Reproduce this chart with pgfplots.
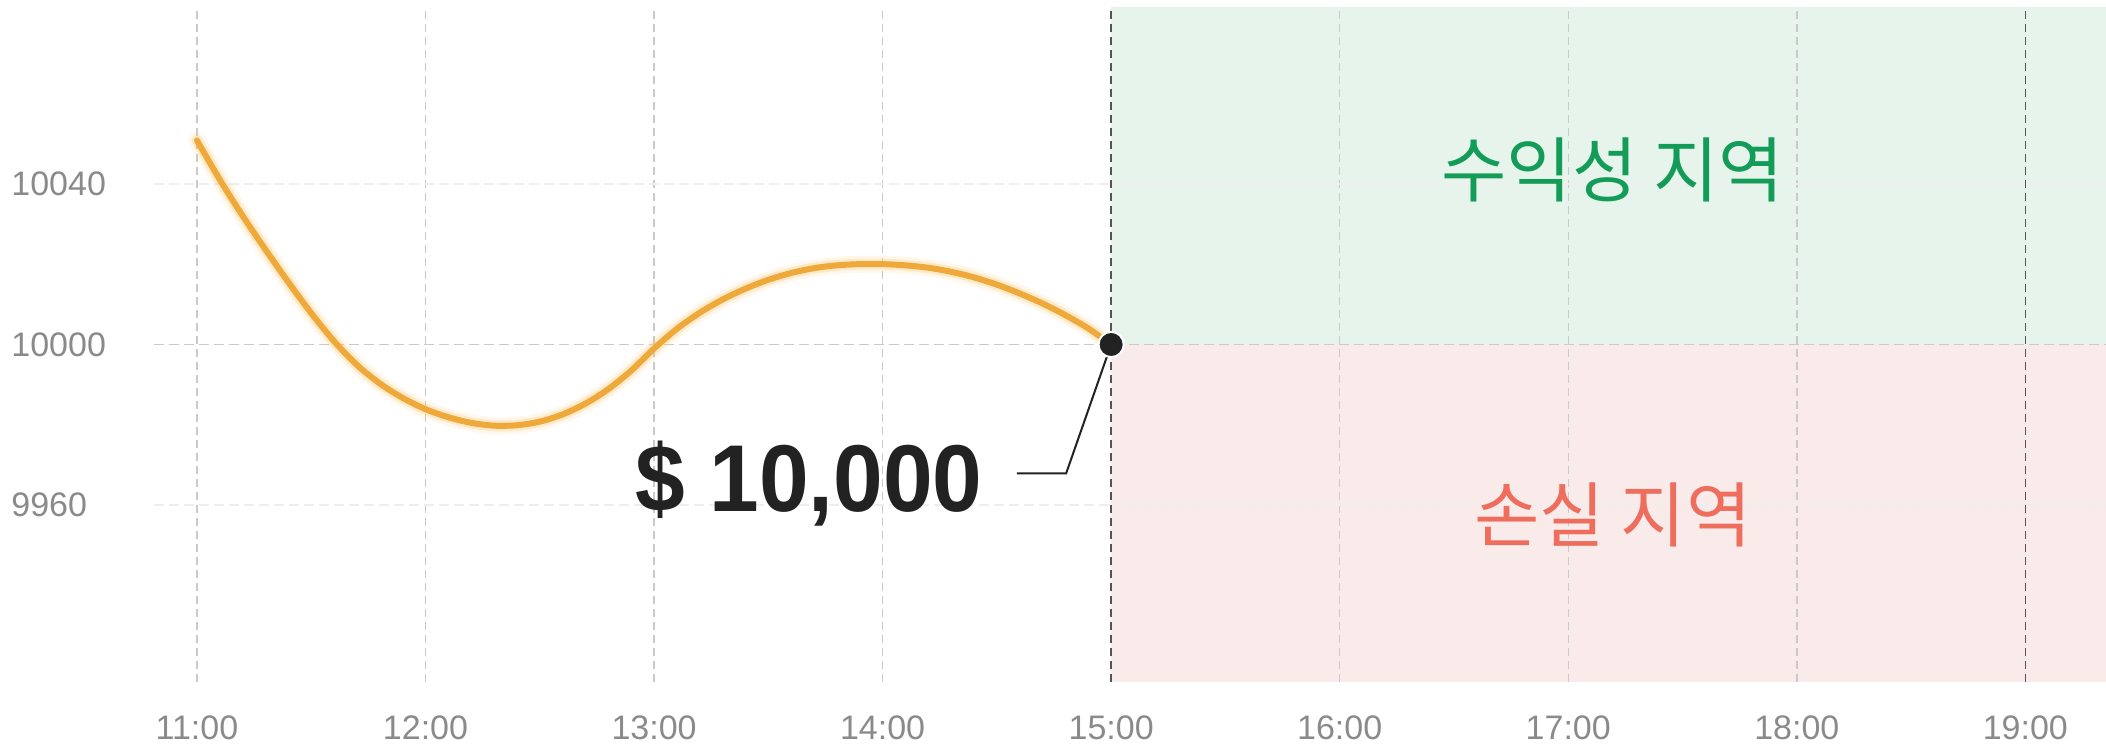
\documentclass[border=0pt]{standalone}
\usepackage{fontspec}
\setmainfont{Liberation Sans}
\newfontfamily\kr{Noto Sans CJK KR}
\usepackage{pgfplots}
\pgfplotsset{compat=1.18}
\definecolor{curve}{HTML}{EFA83A}
\definecolor{glow}{HTML}{F6C46A}
\definecolor{gfill}{HTML}{E7F4EC}
\definecolor{rfill}{HTML}{F9EBEA}
\definecolor{gtext}{HTML}{139B58}
\definecolor{rtext}{HTML}{EE6D5D}
\definecolor{ticktext}{HTML}{8A8A8A}
\definecolor{gridgray}{HTML}{CACACA}
\definecolor{gridlight}{HTML}{EEEEEE}
\definecolor{darkdash}{HTML}{555555}
\definecolor{ink}{HTML}{222222}

\pgfplotstableread{
x y
11.0 10050.8
11.1 10041.0
11.2 10032.0
11.3 10023.6
11.4 10015.5
11.5 10007.8
11.6 10000.8
11.7 9994.9
11.8 9990.3
11.9 9986.7
12.0 9983.9
12.1 9981.9
12.2 9980.5
12.3 9979.8
12.4 9979.9
12.5 9980.8
12.6 9982.6
12.7 9985.3
12.8 9988.9
12.9 9993.5
13.0 9999.0
13.1 10003.9
13.2 10007.9
13.3 10011.2
13.4 10013.9
13.5 10016.1
13.6 10017.8
13.7 10019.0
13.8 10019.7
13.9 10020.0
14.0 10020.0
14.1 10019.7
14.2 10019.1
14.3 10018.1
14.4 10016.7
14.5 10014.9
14.6 10012.7
14.7 10010.2
14.8 10007.3
14.9 10004.0
15.0 10000.0
}\pricedata

\begin{document}
\begin{tikzpicture}
\begin{axis}[
  set layers=standard,
  scale only axis, width=976pt, height=337.5pt,
  xmin=10.812, xmax=19.353, ymin=9916, ymax=10084,
  axis line style={draw=none},
  major tick length=0pt,
  xtick={11,12,13,14,15,16,17,18,19},
  xticklabels={11:00,12:00,13:00,14:00,15:00,16:00,17:00,18:00,19:00},
  ytick={9960,10000,10040},
  yticklabels={9960,10000,10040},
  xmajorgrids, ymajorgrids,
  x grid style={color=gridgray, line width=0.75pt, dash pattern=on 4pt off 2.5pt},
  y grid style={color=gridlight, line width=0.75pt, dash pattern=on 5pt off 2.5pt},
  tick label style={font=\fontsize{17}{19}\selectfont, text=ticktext, inner sep=0pt},
  xticklabel style={anchor=center, yshift=-23pt},
  yticklabel style={anchor=west, xshift=-71.5pt},
  clip=false,
]
% shaded zones
\addplot[on layer=axis background, fill=gfill, draw=none] coordinates {(15,10000) (19.353,10000) (19.353,10084) (15,10084)} -- cycle;
\addplot[on layer=axis background, fill=rfill, draw=none] coordinates {(15,9916) (19.353,9916) (19.353,10000) (15,10000)} -- cycle;
% emphasised grid lines
\addplot[color=gridgray, line width=0.75pt, dash pattern=on 5pt off 2.5pt] coordinates {(10.812,10000) (19.353,10000)};
\addplot[color=darkdash, line width=0.75pt, dash pattern=on 4pt off 2.5pt] coordinates {(15,9916) (15,10084)};
\addplot[color=darkdash, line width=0.75pt, dash pattern=on 4pt off 2.5pt] coordinates {(19,9916) (19,10084)};
% curve with glow
\addplot[color=glow, opacity=0.14, line width=8.5pt, smooth, line cap=round, line join=round] table {\pricedata};
\addplot[color=glow, opacity=0.25, line width=5.5pt, smooth, line cap=round, line join=round] table {\pricedata};
\addplot[color=curve, line width=3pt, smooth, line cap=round, line join=round] table {\pricedata};
% annotation
\addplot[only marks, mark=*, mark size=6.3pt, mark options={fill=ink, draw=white, line width=1pt}] coordinates {(15,10000)};
\draw[color=ink, line width=1pt] (axis cs:14.587,9967.9) -- (axis cs:14.803,9967.9) -- (axis cs:15,10000);
\node[anchor=base east, inner sep=0pt, text=ink, xscale=0.94, font=\bfseries\fontsize{47.5}{52}\selectfont] at (axis cs:14.44,9958.5) {\$ 10,000};
\node[text=gtext, inner sep=0pt, font=\kr\fontsize{35.5}{40}\selectfont] at (axis cs:17.195,10043.5) {수익성 지역};
\node[text=rtext, inner sep=0pt, font=\kr\fontsize{35.5}{40}\selectfont] at (axis cs:17.195,9957.5) {손실 지역};
\end{axis}
\pgfresetboundingbox
\path[use as bounding box] ([xshift=-77pt,yshift=-31pt]current axis.south west) rectangle ([yshift=3.5pt]current axis.north east);
\end{tikzpicture}
\end{document}
